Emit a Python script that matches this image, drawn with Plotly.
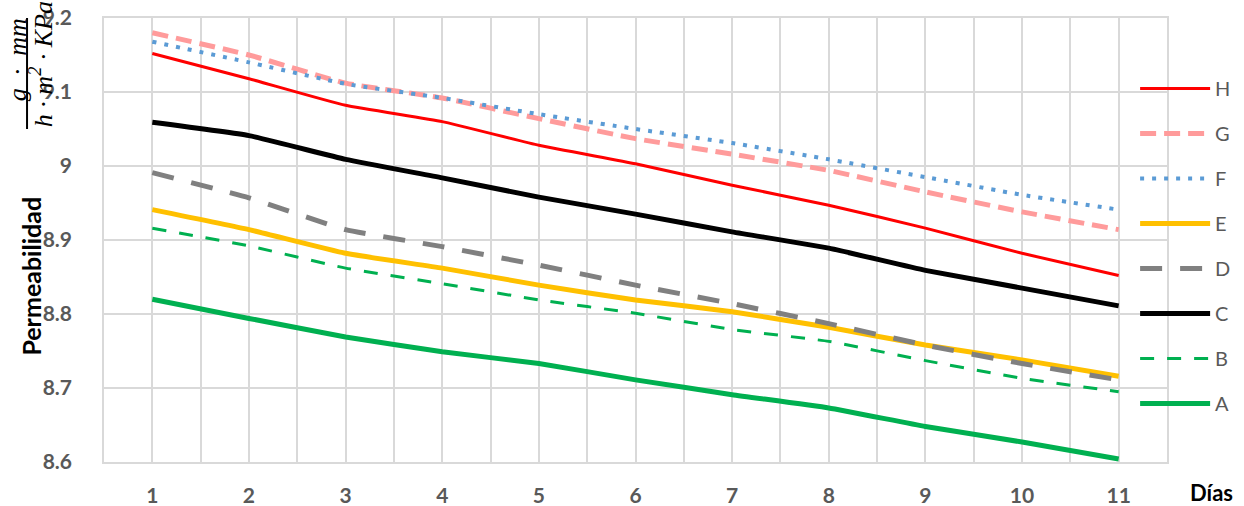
import plotly.graph_objects as go

# Days of measurement
dias = [1, 2, 3, 4, 5, 6, 7, 8, 9, 10, 11]

# Permeability per treatment
serie_H = [9.152, 9.118, 9.082, 9.060, 9.028, 9.003, 8.974, 8.947, 8.916, 8.882, 8.852]
serie_G = [9.180, 9.150, 9.112, 9.092, 9.064, 9.037, 9.016, 8.994, 8.965, 8.938, 8.914]
serie_F = [9.168, 9.140, 9.111, 9.092, 9.070, 9.050, 9.031, 9.009, 8.985, 8.961, 8.941]
serie_E = [8.941, 8.914, 8.882, 8.862, 8.839, 8.819, 8.803, 8.782, 8.758, 8.738, 8.716]
serie_D = [8.991, 8.957, 8.914, 8.891, 8.866, 8.839, 8.814, 8.787, 8.758, 8.733, 8.711]
serie_C = [9.059, 9.041, 9.009, 8.984, 8.958, 8.935, 8.911, 8.889, 8.859, 8.835, 8.811]
serie_B = [8.916, 8.892, 8.862, 8.841, 8.819, 8.801, 8.779, 8.763, 8.737, 8.713, 8.695]
serie_A = [8.820, 8.794, 8.769, 8.749, 8.733, 8.711, 8.691, 8.673, 8.648, 8.627, 8.604]

y_ticks = [8.6, 8.7, 8.8, 8.9, 9.0, 9.1, 9.2]
y_tick_text = ["8.6", "8.7", "8.8", "8.9", "9", "9.1", "9.2"]

series = [
    ("H", serie_H, "#FF0000", 3, "solid"),
    ("G", serie_G, "#FF9B9B", 5, "16px,8px"),
    ("F", serie_F, "#5B9BD5", 4, "4px,8px"),
    ("E", serie_E, "#FFC000", 5, "solid"),
    ("D", serie_D, "#808080", 5, "22px,18px"),
    ("C", serie_C, "#000000", 5, "solid"),
    ("B", serie_B, "#00B050", 3, "14px,13px"),
    ("A", serie_A, "#00B050", 5, "solid"),
]

fig = go.Figure()
for name, vals, color, width, dash in series:
    fig.add_trace(go.Scatter(
        x=dias, y=vals, name=name, mode="lines",
        line=dict(color=color, width=width, dash=dash, shape="spline", smoothing=0.4),
        legendgroup=name,
    ))

# gridlines on half-day boundaries, labels on each day
x_grid = [d - 0.5 for d in dias] + [dias[-1] + 0.5]
x_vals = sorted(x_grid + dias)
x_text = [str(v) if v in dias else "" for v in x_vals]

base_font = "Lato, Open Sans, sans-serif"
tick_font = dict(family=base_font, size=21, color="#595959", weight="bold")
grid_color = "#D9D9D9"

fig.update_layout(
    width=1244, height=506,
    margin=dict(l=104, r=77, t=18, b=44, autoexpand=False),
    paper_bgcolor="white", plot_bgcolor="white",
    showlegend=True,
    legend=dict(
        x=0.97, xanchor="left", y=0.885, yanchor="top",
        font=dict(family=base_font, size=20, color="#595959"),
        bgcolor="rgba(0,0,0,0)", tracegroupgap=16, itemwidth=70,
        traceorder="grouped",
    ),
    xaxis=dict(
        range=[0.5, 11.5], tickmode="array", tickvals=x_vals, ticktext=x_text,
        showgrid=True, gridcolor=grid_color, gridwidth=1.5,
        showline=True, linecolor=grid_color, linewidth=1.5, mirror=True,
        ticks="", tickfont=tick_font, ticklabelstandoff=14, zeroline=False,
    ),
    yaxis=dict(
        range=[8.6, 9.2], tickmode="array", tickvals=y_ticks, ticktext=y_tick_text,
        showgrid=True, gridcolor=grid_color, gridwidth=1.5,
        showline=True, linecolor=grid_color, linewidth=1.5, mirror=True,
        ticks="", tickfont=tick_font, ticklabelstandoff=26, zeroline=False,
    ),
)

# axis titles
fig.add_annotation(
    text="<b>Permeabilidad</b>", xref="paper", yref="paper",
    x=-0.069, y=0.419, xanchor="center", yanchor="middle",
    textangle=-90, showarrow=False,
    font=dict(family=base_font, size=25, color="#000000"),
)
fig.add_annotation(
    text="<b>Días</b>", xref="paper", yref="paper",
    x=1.042, xanchor="center", y=-0.068, yanchor="middle", showarrow=False,
    font=dict(family=base_font, size=22, color="#000000"),
)

# unit fraction written vertically: (g·mm) / (h·m²·KPa)
unit_font = dict(family="Liberation Serif, DejaVu Serif, serif", size=26, color="#000000")
fig.add_annotation(
    text="<i>g\u2002·\u2002mm</i>", xref="paper", yref="paper",
    x=-0.0818, y=0.905, xanchor="center", yanchor="middle",
    textangle=-90, showarrow=False, font=unit_font,
)
fig.add_annotation(
    text="<i>h · m<sup>2</sup> · KPa</i>", xref="paper", yref="paper",
    x=-0.0593, y=0.896, xanchor="center", yanchor="middle",
    textangle=-90, showarrow=False, font=unit_font,
)
fig.add_shape(
    type="line", xref="paper", yref="paper",
    x0=-0.0724, x1=-0.0724, y0=1.0, y1=0.75,
    line=dict(color="#000000", width=2),
)

fig.write_html("out.html")
